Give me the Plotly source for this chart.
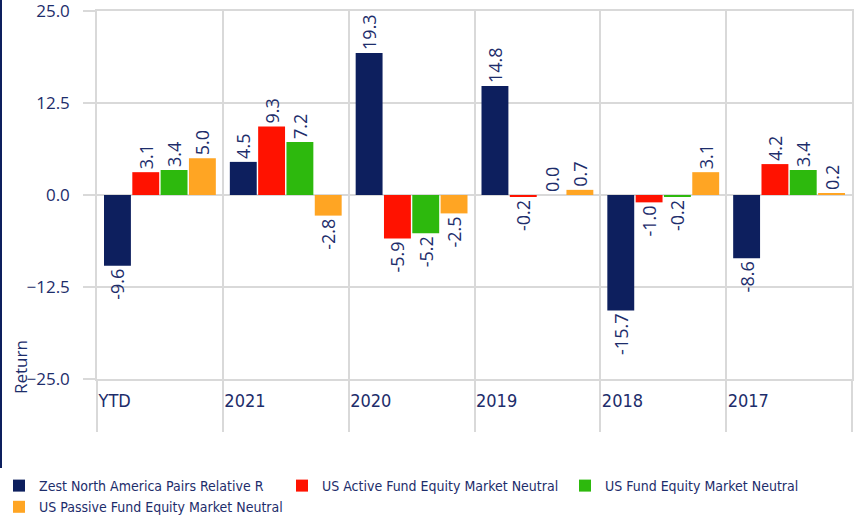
import plotly.graph_objects as go

categories = ["YTD", "2021", "2020", "2019", "2018", "2017"]
series_names = [
    "Zest North America Pairs Relative R",
    "US Active Fund Equity Market Neutral",
    "US Fund Equity Market Neutral",
    "US Passive Fund Equity Market Neutral",
]
zest = [-9.6, 4.5, 19.3, 14.8, -15.7, -8.6]
us_active = [3.1, 9.3, -5.9, -0.2, -1.0, 4.2]
us_fund = [3.4, 7.2, -5.2, 0.0, -0.2, 3.4]
us_passive = [5.0, -2.8, -2.5, 0.7, 3.1, 0.2]
y_ticks = [-25.0, -12.5, 0.0, 12.5, 25.0]

colors = ["#0d1f5e", "#ff1200", "#2db90d", "#ffa523"]
text_color = "#1d2d6b"
grid_color = "#d9d9d9"
num_font = "Open Sans, Noto Sans, sans-serif"
narrow_font = "Liberation Sans Narrow, DejaVu Sans Condensed, sans-serif"

W, H = 857, 518
L, R, T, B = 97, 5, 11, 139
pw, ph = W - L - R, H - T - B

def px_x(px):
    return (px - L) / pw

def px_y(py):
    return (H - B - py) / ph

xpos = list(range(len(categories)))
fig = go.Figure()
for name, vals, col in zip(series_names, [zest, us_active, us_fund, us_passive], colors):
    fig.add_trace(go.Bar(
        x=xpos, y=vals, name=name, marker=dict(color=col, line=dict(width=0)),
        texttemplate="%{y:.1f}", textposition="outside", textangle=-90,
        constraintext="none", cliponaxis=False,
        textfont=dict(family=num_font, size=18, color=text_color),
    ))

bounds = [i - 0.5 for i in range(len(categories) + 1)]
fig.update_layout(
    width=W, height=H,
    margin=dict(l=L, r=R, t=T, b=B, autoexpand=False),
    paper_bgcolor="white", plot_bgcolor="white",
    barmode="group", bargap=0.1, bargroupgap=0.05,
    showlegend=True,
    legend=dict(
        orientation="h", x=px_x(-1), y=px_y(470), xanchor="left", yanchor="top",
        entrywidth=238, entrywidthmode="pixels",
        font=dict(family=narrow_font, size=14, color=text_color),
        itemclick=False, bgcolor="rgba(0,0,0,0)",
    ),
    xaxis=dict(
        range=[-0.5, len(categories) - 0.5],
        tickvals=bounds, ticktext=categories + [""],
        ticklabelposition="outside right",
        showgrid=True, gridcolor=grid_color, gridwidth=1.5,
        ticks="outside", ticklen=51, tickcolor=grid_color, tickwidth=1.5,
        ticklabelstandoff=5, ticklabeloverflow="allow",
        tickfont=dict(family=narrow_font, size=18, color=text_color),
        showline=True, mirror=True, linecolor=grid_color, linewidth=1.5,
        zeroline=False,
    ),
    yaxis=dict(
        range=[-25, 25], tickvals=y_ticks, tickformat=".1f",
        showgrid=True, gridcolor=grid_color, gridwidth=1.5,
        ticks="outside", ticklen=12, tickcolor=grid_color, tickwidth=1.5,
        ticklabelstandoff=10, ticklabeloverflow="allow",
        tickfont=dict(family=num_font, size=17, color=text_color),
        showline=True, mirror=True, linecolor=grid_color, linewidth=1.5,
        zeroline=False,
    ),
    annotations=[dict(
        text="Return", textangle=-90, xref="paper", yref="paper",
        x=px_x(20), y=px_y(367), showarrow=False, xanchor="center", yanchor="middle",
        font=dict(family=num_font, size=17, color=text_color),
    )],
    shapes=[dict(
        type="line", xref="paper", yref="paper",
        x0=px_x(1), x1=px_x(1), y0=px_y(468), y1=px_y(0),
        line=dict(color="#0d1f5e", width=2),
    )],
)

fig.write_html("out.html", config={"displayModeBar": False},
               post_script="document.body.style.margin='0';")
